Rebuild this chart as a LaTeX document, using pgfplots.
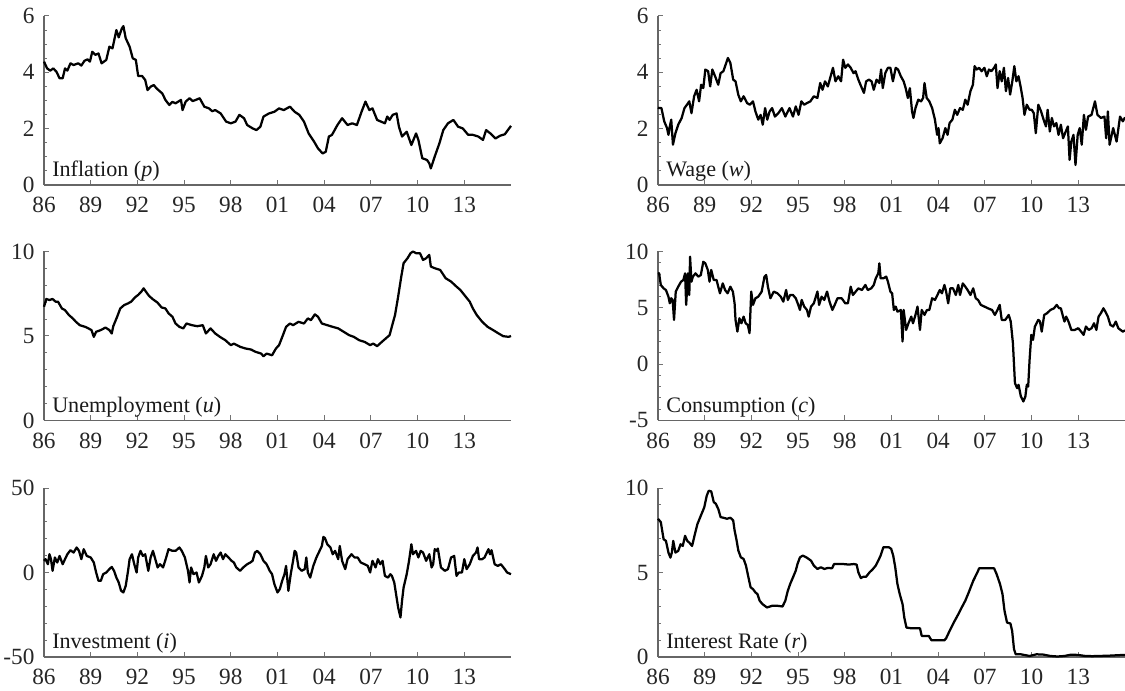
\documentclass[border=0pt]{standalone}
\usepackage{fontspec}
\setmainfont{Liberation Serif}
\usepackage{pgfplots}
\pgfplotsset{compat=1.18}
\usepackage{pgfplotstable}

% ---- data (year, value) ----
\pgfplotstableread{
yr val
1986.00 4.38
1986.20 4.14
1986.40 4.06
1986.60 4.14
1986.80 4.02
1987.00 3.79
1987.20 3.79
1987.35 4.14
1987.50 4.06
1987.70 4.32
1987.90 4.26
1988.20 4.32
1988.40 4.24
1988.60 4.41
1988.80 4.46
1988.95 4.38
1989.10 4.73
1989.30 4.62
1989.50 4.67
1989.70 4.32
1990.00 4.44
1990.20 4.91
1990.40 4.85
1990.65 5.50
1990.80 5.24
1991.00 5.56
1991.10 5.64
1991.25 5.21
1991.50 4.91
1991.70 4.50
1991.90 4.44
1992.05 3.87
1992.30 3.87
1992.50 3.73
1992.65 3.37
1992.85 3.49
1993.05 3.55
1993.20 3.45
1993.35 3.37
1993.60 3.25
1993.80 3.02
1994.05 2.84
1994.25 2.95
1994.45 2.90
1994.80 3.02
1994.90 2.66
1995.10 2.96
1995.35 3.08
1995.55 2.98
1995.75 3.02
1996.00 3.08
1996.30 2.78
1996.60 2.72
1996.80 2.62
1997.00 2.66
1997.35 2.54
1997.70 2.25
1998.00 2.19
1998.30 2.25
1998.55 2.49
1998.85 2.37
1999.05 2.13
1999.40 2.01
1999.65 1.95
1999.90 2.07
2000.10 2.43
2000.45 2.54
2000.80 2.60
2001.10 2.72
2001.40 2.66
2001.80 2.78
2002.10 2.60
2002.40 2.49
2002.70 2.25
2003.00 1.83
2003.35 1.54
2003.60 1.30
2003.90 1.12
2004.10 1.18
2004.30 1.72
2004.50 1.78
2004.85 2.13
2005.15 2.37
2005.50 2.13
2005.80 2.19
2006.10 2.13
2006.40 2.60
2006.65 2.96
2006.90 2.66
2007.10 2.72
2007.40 2.31
2007.90 2.19
2008.05 2.43
2008.20 2.31
2008.40 2.49
2008.65 2.54
2008.80 2.07
2009.00 1.72
2009.30 1.89
2009.60 1.42
2009.90 1.83
2010.05 1.60
2010.30 0.95
2010.60 0.89
2010.75 0.77
2010.85 0.59
2011.10 1.01
2011.40 1.48
2011.65 1.95
2011.95 2.19
2012.30 2.31
2012.60 2.07
2012.90 2.01
2013.25 1.78
2013.55 1.78
2013.90 1.72
2014.20 1.60
2014.40 1.95
2014.70 1.82
2015.00 1.65
2015.30 1.75
2015.60 1.80
2015.80 1.95
2016.00 2.10
}\inflation

\pgfplotstableread{
yr val
1986.00 2.75
1986.07 2.73
1986.22 2.73
1986.40 2.26
1986.58 2.02
1986.67 1.78
1986.76 2.08
1986.85 2.32
1986.96 1.43
1987.12 1.84
1987.30 2.14
1987.52 2.38
1987.70 2.73
1987.86 2.85
1988.01 2.97
1988.15 2.55
1988.32 3.15
1988.48 3.38
1988.64 2.97
1988.77 3.56
1988.91 3.44
1989.04 4.10
1989.22 4.04
1989.35 3.50
1989.49 4.10
1989.71 3.80
1989.87 3.56
1990.02 3.97
1990.20 4.04
1990.38 4.33
1990.49 4.51
1990.65 4.33
1990.83 3.74
1990.98 3.68
1991.16 3.20
1991.32 2.97
1991.50 3.15
1991.72 2.91
1991.90 2.85
1992.10 2.97
1992.26 2.61
1992.44 2.32
1992.59 2.49
1992.73 2.14
1992.88 2.73
1993.02 2.32
1993.17 2.61
1993.33 2.73
1993.51 2.43
1993.73 2.55
1993.96 2.73
1994.18 2.43
1994.45 2.73
1994.67 2.43
1994.85 2.79
1995.03 2.49
1995.21 2.97
1995.39 2.85
1995.57 2.91
1995.79 2.97
1996.01 3.15
1996.24 3.09
1996.42 3.62
1996.57 3.38
1996.73 3.68
1996.91 3.50
1997.09 3.86
1997.24 4.16
1997.40 3.68
1997.58 3.86
1997.76 3.68
1997.89 4.45
1998.03 4.16
1998.20 4.28
1998.38 4.16
1998.56 3.97
1998.69 4.04
1998.87 3.74
1999.05 3.50
1999.23 3.27
1999.37 3.68
1999.55 3.74
1999.72 3.68
1999.86 3.38
2000.04 3.74
2000.22 3.62
2000.33 4.10
2000.44 3.44
2000.60 3.97
2000.77 4.16
2000.93 4.16
2001.09 3.68
2001.27 4.16
2001.42 4.10
2001.60 3.86
2001.78 3.68
2001.91 3.44
2002.05 3.09
2002.18 3.44
2002.32 2.61
2002.41 2.38
2002.54 2.73
2002.72 3.03
2002.90 2.97
2003.03 3.09
2003.12 3.62
2003.26 3.09
2003.43 2.97
2003.61 2.73
2003.79 2.32
2003.93 1.78
2004.02 2.02
2004.10 1.48
2004.28 1.66
2004.46 2.02
2004.60 1.78
2004.73 2.20
2004.91 2.32
2005.07 2.67
2005.22 2.49
2005.40 2.73
2005.58 2.67
2005.74 3.03
2005.89 2.85
2006.07 3.33
2006.23 3.56
2006.34 4.22
2006.47 4.10
2006.63 4.16
2006.79 4.04
2006.97 4.16
2007.12 3.86
2007.26 4.10
2007.41 4.04
2007.59 4.16
2007.70 4.28
2007.81 3.44
2007.95 4.04
2008.08 3.68
2008.22 4.16
2008.35 3.33
2008.49 3.80
2008.62 3.21
2008.76 3.68
2008.89 4.22
2009.02 3.68
2009.16 3.86
2009.29 3.50
2009.42 3.09
2009.54 2.49
2009.69 2.85
2009.87 2.67
2010.01 2.67
2010.14 2.55
2010.27 1.84
2010.43 2.85
2010.61 2.61
2010.77 2.32
2010.92 2.08
2011.03 2.67
2011.17 1.90
2011.30 2.38
2011.44 2.08
2011.59 2.20
2011.73 1.78
2011.88 2.14
2012.02 1.66
2012.15 1.84
2012.33 2.08
2012.44 0.89
2012.55 1.54
2012.69 1.78
2012.82 0.71
2012.96 1.78
2013.09 2.02
2013.22 1.43
2013.36 2.49
2013.49 1.96
2013.63 2.43
2013.85 2.49
2014.07 2.97
2014.23 2.49
2014.46 2.38
2014.68 2.43
2014.79 1.66
2014.90 2.61
2015.01 1.43
2015.24 2.02
2015.46 1.54
2015.68 2.43
2015.86 2.26
2016.00 2.40
}\wage

\pgfplotstableread{
yr val
1986.00 6.73
1986.15 7.19
1986.35 7.13
1986.55 7.19
1986.75 7.03
1986.90 7.03
1987.15 6.63
1987.35 6.53
1987.60 6.24
1987.85 6.04
1988.05 5.84
1988.30 5.64
1988.65 5.54
1988.85 5.45
1989.05 5.35
1989.20 4.95
1989.35 5.25
1989.65 5.35
1989.95 5.50
1990.20 5.35
1990.35 5.15
1990.45 5.58
1990.70 6.14
1990.90 6.63
1991.15 6.83
1991.40 6.93
1991.60 7.03
1991.85 7.29
1992.05 7.43
1992.25 7.62
1992.40 7.82
1992.55 7.62
1992.75 7.37
1993.00 7.17
1993.30 6.97
1993.55 6.69
1993.80 6.63
1994.00 6.34
1994.25 6.14
1994.45 5.74
1994.70 5.54
1994.95 5.45
1995.15 5.74
1995.50 5.64
1995.85 5.58
1996.20 5.64
1996.40 5.15
1996.70 5.45
1997.00 5.15
1997.30 4.95
1997.65 4.75
1998.00 4.46
1998.20 4.55
1998.60 4.36
1998.95 4.26
1999.30 4.20
1999.60 4.06
1999.95 3.96
2000.10 3.80
2000.30 3.96
2000.65 3.86
2000.90 4.26
2001.10 4.46
2001.35 5.05
2001.55 5.54
2001.80 5.74
2002.00 5.64
2002.35 5.84
2002.70 5.74
2002.95 6.04
2003.15 5.94
2003.40 6.28
2003.60 6.14
2003.85 5.74
2004.20 5.64
2004.55 5.54
2004.90 5.45
2005.25 5.25
2005.60 5.05
2005.90 4.95
2006.25 4.75
2006.60 4.65
2006.95 4.46
2007.15 4.55
2007.40 4.40
2007.70 4.65
2007.95 4.85
2008.20 5.05
2008.40 5.74
2008.55 6.24
2008.75 7.33
2008.95 8.51
2009.10 9.31
2009.35 9.60
2009.55 9.90
2009.70 10.00
2009.90 9.90
2010.15 9.90
2010.35 9.50
2010.55 9.60
2010.75 9.80
2010.85 9.11
2011.10 9.01
2011.45 8.91
2011.80 8.42
2012.15 8.22
2012.50 7.92
2012.75 7.72
2013.00 7.43
2013.35 7.03
2013.55 6.63
2013.80 6.24
2014.15 5.84
2014.50 5.54
2014.85 5.35
2015.20 5.15
2015.50 4.99
2015.85 4.95
2016.00 5.00
}\unemp

\pgfplotstableread{
yr val
1986.00 8.10
1986.07 8.06
1986.18 7.03
1986.36 6.73
1986.51 6.58
1986.67 5.99
1986.76 5.40
1986.85 5.85
1986.94 5.70
1987.03 3.93
1987.14 6.44
1987.30 6.88
1987.48 7.32
1987.63 7.47
1987.74 8.06
1987.81 5.26
1987.92 8.06
1988.01 6.14
1988.06 9.54
1988.15 7.32
1988.24 7.77
1988.41 8.06
1988.59 7.77
1988.75 7.91
1988.91 9.09
1989.04 8.95
1989.20 8.36
1989.31 7.32
1989.42 8.36
1989.58 7.47
1989.76 7.47
1989.87 6.88
1989.98 6.29
1990.16 7.17
1990.31 6.58
1990.47 6.29
1990.65 6.88
1990.81 6.44
1990.92 5.40
1990.98 3.93
1991.10 2.89
1991.23 4.07
1991.36 3.63
1991.50 4.22
1991.63 3.63
1991.77 3.48
1991.88 2.75
1991.99 6.44
1992.10 5.26
1992.26 5.85
1992.44 5.99
1992.66 6.44
1992.84 7.77
1992.95 7.91
1993.06 6.88
1993.22 5.85
1993.44 6.44
1993.67 6.29
1993.89 5.99
1994.05 5.55
1994.23 6.58
1994.34 5.70
1994.49 6.14
1994.67 6.14
1994.85 5.85
1995.01 5.26
1995.12 4.81
1995.23 5.70
1995.39 5.11
1995.57 4.81
1995.68 4.22
1995.83 5.11
1996.01 5.40
1996.24 6.44
1996.35 5.26
1996.51 5.99
1996.68 5.70
1996.86 6.44
1997.02 5.55
1997.20 4.81
1997.35 5.26
1997.53 5.85
1997.80 5.85
1998.03 5.40
1998.20 5.40
1998.38 6.88
1998.52 6.14
1998.70 6.44
1998.87 6.73
1999.10 6.58
1999.32 7.03
1999.48 6.58
1999.70 6.73
1999.86 7.03
1999.99 7.62
2000.15 8.06
2000.22 8.95
2000.30 7.62
2000.48 7.62
2000.66 7.77
2000.77 7.32
2000.93 6.44
2001.04 6.29
2001.15 4.81
2001.27 5.11
2001.38 4.66
2001.60 4.81
2001.71 2.01
2001.78 4.81
2001.94 3.04
2002.09 3.63
2002.27 4.22
2002.38 3.63
2002.54 4.37
2002.67 5.11
2002.83 3.04
2002.94 4.81
2003.12 4.37
2003.28 4.81
2003.43 4.81
2003.61 5.85
2003.79 5.70
2003.95 6.14
2004.10 6.58
2004.24 6.29
2004.40 7.03
2004.51 6.44
2004.64 5.40
2004.78 6.73
2004.95 6.73
2005.13 6.14
2005.29 7.03
2005.40 6.14
2005.58 7.17
2005.74 6.88
2005.89 6.58
2006.07 6.14
2006.25 6.73
2006.41 5.85
2006.56 5.70
2006.74 5.26
2006.97 5.11
2007.19 4.96
2007.46 4.81
2007.64 4.37
2007.81 4.81
2007.95 5.26
2008.08 3.93
2008.31 3.93
2008.53 4.37
2008.66 3.78
2008.80 1.86
2008.93 -1.68
2009.07 -2.13
2009.16 -1.83
2009.31 -2.86
2009.47 -3.31
2009.60 -2.86
2009.69 -1.83
2009.78 -1.98
2009.87 0.38
2009.98 2.60
2010.09 2.16
2010.21 3.34
2010.43 3.93
2010.54 3.78
2010.65 2.89
2010.81 4.37
2010.99 4.52
2011.21 4.81
2011.44 4.96
2011.61 5.26
2011.77 4.96
2011.88 4.96
2011.99 4.37
2012.11 3.78
2012.22 4.22
2012.37 3.78
2012.55 3.04
2012.78 3.04
2013.00 3.19
2013.18 2.89
2013.34 2.60
2013.49 3.34
2013.67 3.04
2013.85 3.19
2014.01 3.63
2014.16 3.04
2014.30 4.22
2014.45 4.52
2014.61 4.96
2014.74 4.66
2014.90 4.22
2015.06 3.48
2015.24 3.34
2015.41 3.78
2015.57 3.19
2015.86 2.89
2016.00 3.00
}\consum

\pgfplotstableread{
yr val
1986.00 6.9
1986.10 7.9
1986.25 4.9
1986.35 10.8
1986.45 7.9
1986.55 1.0
1986.70 8.9
1986.85 5.9
1987.00 9.8
1987.20 4.9
1987.35 7.9
1987.50 10.8
1987.70 13.2
1987.90 11.8
1988.10 14.8
1988.25 12.8
1988.40 7.9
1988.55 13.8
1988.75 9.8
1989.00 8.9
1989.20 5.9
1989.35 0.0
1989.50 -4.9
1989.65 -4.9
1989.80 -1.0
1990.00 0.0
1990.20 2.0
1990.35 3.3
1990.50 1.0
1990.65 -3.0
1990.80 -5.9
1990.95 -10.8
1991.10 -11.8
1991.25 -7.9
1991.40 1.0
1991.50 7.9
1991.65 10.8
1991.80 4.9
1991.95 0.0
1992.05 8.9
1992.20 12.8
1992.35 9.8
1992.50 10.8
1992.70 1.0
1992.85 8.9
1993.00 12.8
1993.15 7.9
1993.30 3.0
1993.45 4.9
1993.65 3.0
1993.85 8.9
1994.00 13.8
1994.25 12.8
1994.45 12.8
1994.70 14.8
1994.85 12.8
1995.05 8.9
1995.25 1.0
1995.35 -5.9
1995.45 3.0
1995.60 -1.0
1995.80 0.0
1995.95 -5.9
1996.15 -2.0
1996.30 3.0
1996.40 9.8
1996.55 3.0
1996.70 4.9
1996.90 10.8
1997.05 6.9
1997.20 9.8
1997.35 11.8
1997.50 7.9
1997.65 10.8
1997.85 8.9
1998.05 6.9
1998.20 5.9
1998.35 3.0
1998.60 1.0
1998.80 3.0
1999.05 4.9
1999.25 5.9
1999.40 6.9
1999.55 11.8
1999.70 12.8
1999.90 10.8
2000.10 6.9
2000.30 4.9
2000.50 1.0
2000.65 -1.0
2000.80 -6.9
2001.00 -11.8
2001.15 -9.8
2001.30 -4.9
2001.45 -1.0
2001.55 3.9
2001.70 -10.8
2001.85 -1.0
2002.00 6.9
2002.10 12.8
2002.20 11.8
2002.35 3.0
2002.55 1.0
2002.75 2.0
2002.85 8.9
2002.95 0.0
2003.10 -3.0
2003.30 3.9
2003.50 8.9
2003.65 11.8
2003.85 15.7
2003.95 21.1
2004.05 20.3
2004.20 16.7
2004.40 14.8
2004.55 10.8
2004.70 12.8
2004.90 7.9
2005.00 15.7
2005.15 6.9
2005.35 2.0
2005.50 7.9
2005.75 10.8
2005.95 8.9
2006.15 8.9
2006.35 5.9
2006.60 4.9
2006.80 3.9
2006.95 0.0
2007.10 6.9
2007.30 3.0
2007.45 7.9
2007.60 4.9
2007.75 6.9
2007.90 -2.0
2008.10 -3.0
2008.25 -1.0
2008.35 -2.0
2008.50 -5.9
2008.65 -14.8
2008.75 -20.7
2008.90 -26.6
2009.00 -16.7
2009.10 -8.9
2009.30 -1.0
2009.45 6.9
2009.60 16.7
2009.70 10.8
2009.90 12.8
2010.05 8.9
2010.20 12.8
2010.35 11.8
2010.55 6.9
2010.65 8.9
2010.75 10.8
2010.90 3.0
2011.00 4.9
2011.10 13.8
2011.25 12.8
2011.30 14.2
2011.50 3.0
2011.75 1.0
2011.95 2.0
2012.15 8.9
2012.35 9.8
2012.50 -2.0
2012.65 0.0
2012.85 0.0
2013.00 7.9
2013.15 2.0
2013.35 4.9
2013.55 9.8
2013.75 11.8
2013.85 14.8
2013.95 7.9
2014.15 7.9
2014.30 8.9
2014.55 13.8
2014.65 10.8
2014.75 13.2
2014.95 4.9
2015.15 3.9
2015.35 4.9
2015.60 2.0
2015.75 0.0
2016.00 -1.0
}\invest

\pgfplotstableread{
yr val
1986.00 8.18
1986.18 7.98
1986.36 6.97
1986.51 6.87
1986.67 6.18
1986.80 5.88
1986.89 6.18
1986.98 6.87
1987.12 6.18
1987.30 6.28
1987.45 6.67
1987.59 6.57
1987.74 7.17
1987.88 6.87
1988.01 6.77
1988.19 6.57
1988.37 7.27
1988.53 7.86
1988.75 8.36
1988.97 8.85
1989.13 9.54
1989.26 9.84
1989.42 9.80
1989.58 9.17
1989.71 9.07
1989.87 8.77
1990.02 8.28
1990.20 8.24
1990.43 8.18
1990.65 8.24
1990.83 8.08
1990.92 7.49
1991.05 6.89
1991.16 6.30
1991.32 5.90
1991.50 5.80
1991.65 5.41
1991.81 4.71
1991.95 4.12
1992.10 4.02
1992.26 3.82
1992.39 3.72
1992.53 3.33
1992.71 3.13
1993.00 2.93
1993.33 3.03
1993.67 3.03
1994.00 2.99
1994.18 3.33
1994.34 3.92
1994.49 4.32
1994.67 4.71
1994.85 5.11
1994.96 5.50
1995.12 5.90
1995.30 6.00
1995.52 5.90
1995.68 5.80
1995.83 5.70
1996.01 5.41
1996.24 5.21
1996.46 5.31
1996.68 5.21
1996.91 5.27
1997.18 5.25
1997.31 5.50
1997.58 5.50
1997.91 5.50
1998.25 5.47
1998.58 5.50
1998.76 5.47
1998.87 5.01
1999.03 4.67
1999.19 4.75
1999.37 4.75
1999.59 5.01
1999.81 5.21
1999.99 5.41
2000.15 5.70
2000.30 6.00
2000.48 6.50
2000.82 6.50
2000.98 6.40
2001.11 6.00
2001.24 5.31
2001.38 4.32
2001.53 3.72
2001.71 3.13
2001.82 2.34
2001.96 1.74
2002.27 1.70
2002.83 1.70
2002.94 1.25
2003.39 1.25
2003.57 0.99
2004.40 0.99
2004.51 1.11
2004.73 1.54
2005.00 2.04
2005.29 2.53
2005.51 2.93
2005.74 3.33
2005.96 3.82
2006.25 4.51
2006.52 5.01
2006.63 5.25
2007.59 5.25
2007.75 4.91
2007.97 4.32
2008.13 3.72
2008.26 2.73
2008.42 2.04
2008.64 1.98
2008.75 1.54
2008.87 0.46
2008.98 0.16
2009.31 0.16
2009.65 0.10
2009.87 0.06
2010.32 0.16
2010.77 0.14
2011.21 0.06
2011.66 0.03
2012.11 0.06
2012.55 0.14
2013.00 0.12
2013.45 0.06
2013.89 0.05
2014.34 0.06
2015.01 0.08
2015.86 0.12
2016.00 0.12
}\interest

\pgfplotsset{
  panel/.style={
    scale only axis, width=186.8pt, height=67.6pt,
    anchor=south west,
    xmin=1986, xmax=2016,
    axis x line*=bottom, axis y line*=left,
    axis line style={-, black!60, line width=0.5pt},
    xtick={1986,1989,...,2013},
    xticklabels={86,89,92,95,98,01,04,07,10,13},
    minor x tick num=5,
    tick align=inside,
    major tick length=2pt, minor tick length=1.2pt,
    every tick/.style={black!55, line width=0.4pt},
    tick label style={font=\fontsize{9.3}{10}\selectfont, text=black!85},
    xticklabel style={yshift=-1.4pt},
    yticklabel style={xshift=-0.3pt},
    clip=false,
  },
  ser/.style={black, line width=0.9pt, line join=round, mark=none},
}
\tikzset{
  tag/.style={font=\fontsize{8.85}{9}\selectfont, text=black!90, anchor=base west,
    inner sep=0pt, xshift=3.1pt, yshift=3.3pt},
}

\begin{document}
\begin{tikzpicture}
\useasboundingbox (0,0) rectangle (450pt,276pt);

% Inflation
\begin{axis}[panel, at={(17.6pt,202pt)},
  ymin=0, ymax=6, ytick={0,2,4,6}, yticklabels={0,2,4,6}, minor y tick num=3]
\addplot[ser] table[x=yr,y=val] {\inflation};
\node[tag] at (rel axis cs:0,0) {Inflation (\textit{p})};
\end{axis}

% Wage
\begin{axis}[panel, at={(263.2pt,202pt)},
  ymin=0, ymax=6, ytick={0,2,4,6}, yticklabels={0,2,4,6}, minor y tick num=3]
\addplot[ser] table[x=yr,y=val] {\wage};
\node[tag] at (rel axis cs:0,0) {Wage (\textit{w})};
\end{axis}

% Unemployment
\begin{axis}[panel, at={(17.6pt,107.8pt)},
  ymin=0, ymax=10, ytick={0,5,10}, yticklabels={0,5,10}, minor y tick num=4]
\addplot[ser] table[x=yr,y=val] {\unemp};
\node[tag] at (rel axis cs:0,0) {Unemployment (\textit{u})};
\end{axis}

% Consumption
\begin{axis}[panel, at={(263.2pt,107.8pt)},
  ymin=-5, ymax=10, ytick={-5,0,5,10}, yticklabels={-5,0,5,10}, minor y tick num=4]
\addplot[ser] table[x=yr,y=val] {\consum};
\node[tag] at (rel axis cs:0,0) {Consumption (\textit{c})};
\end{axis}

% Investment
\begin{axis}[panel, at={(17.6pt,13.2pt)},
  ymin=-50, ymax=50, ytick={-50,0,50}, yticklabels={-50,0,50}, minor y tick num=4]
\addplot[ser] table[x=yr,y=val] {\invest};
\node[tag] at (rel axis cs:0,0) {Investment (\textit{i})};
\end{axis}

% Interest rate
\begin{axis}[panel, at={(263.2pt,13.2pt)},
  ymin=0, ymax=10, ytick={0,5,10}, yticklabels={0,5,10}, minor y tick num=4]
\addplot[ser] table[x=yr,y=val] {\interest};
\node[tag] at (rel axis cs:0,0) {Interest Rate (\textit{r})};
\end{axis}

\end{tikzpicture}
\end{document}
